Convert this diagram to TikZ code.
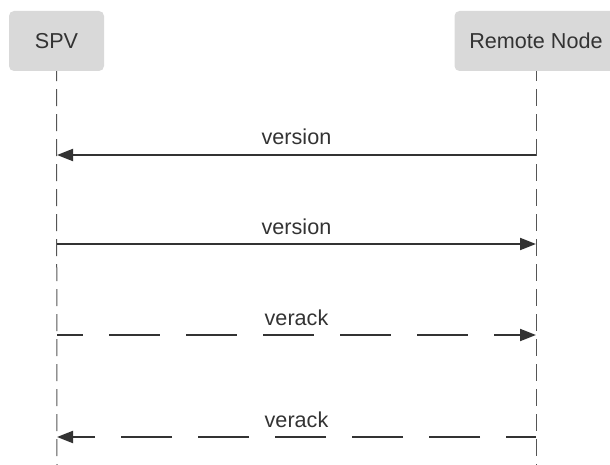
\documentclass[tikz,border=0pt]{standalone}
\usepackage{fontspec}
\setmainfont{Liberation Sans}
\usetikzlibrary{arrows.meta}
\definecolor{boxfill}{HTML}{D9D9D9}
\definecolor{ink}{HTML}{333333}
\definecolor{lifegray}{HTML}{555555}
\tikzset{
  actor/.style={fill=boxfill, draw=none, rounded corners=5pt, minimum height=60pt,
    inner sep=0pt, text=ink, font=\fontsize{21.6}{26}\selectfont},
  lifeline/.style={draw=lifegray, line width=1pt, dash pattern=on 17pt off 8pt, dash phase=7pt},
  msg/.style={draw=ink, line width=2pt, -{Triangle[length=16pt,width=12pt]}},
  reply/.style={msg, dash pattern=on 51pt off 26pt},
  msglabel/.style={anchor=base, yshift=10pt, text=ink, inner sep=0pt,
    font=\fontsize{21.6}{26}\selectfont}
}
\begin{document}
\begin{tikzpicture}[x=1pt,y=-1pt]
\useasboundingbox (0,0) rectangle (610,465);

% participants
\node[actor, minimum width=95pt]  (spv) at (56.5,41) {SPV};
\node[actor, minimum width=163pt] (rn)  at (536,41)  {Remote Node};

% lifelines
\coordinate (spvEnd) at (57,465);
\coordinate (rnEnd)  at (536,465);
\draw[lifeline] (spv.south) -- (spvEnd);
\draw[lifeline] (rn.south) -- (rnEnd);

% message anchor points on the lifelines
\coordinate (s1) at (57,155);  \coordinate (r1) at (536,155);
\coordinate (s2) at (57,244);  \coordinate (r2) at (536,244);
\coordinate (s3) at (57,335);  \coordinate (r3) at (536,335);
\coordinate (s4) at (57,437);  \coordinate (r4) at (536,437);

% messages
\draw[msg] (r1) -- node[msglabel] {version} (s1);
\draw[msg] (s2) -- node[msglabel] {version} (r2);
\draw[reply, dash phase=25pt] (s3) -- node[msglabel] {verack} (r3);
\draw[reply, dash phase=21pt] (r4) -- node[msglabel] {verack} (s4);
\end{tikzpicture}
\end{document}
